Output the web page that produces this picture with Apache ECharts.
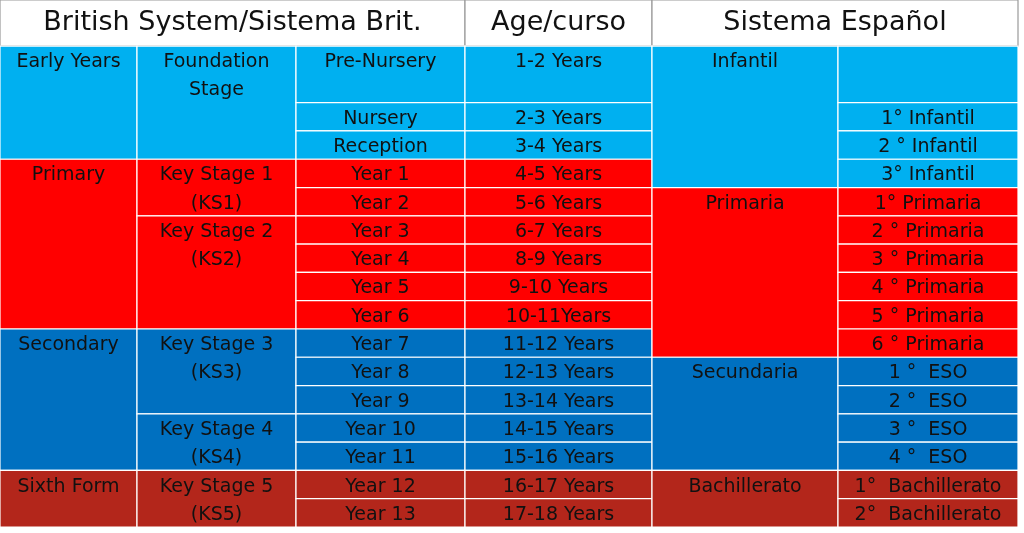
<!DOCTYPE html>
<html>
<head>
<meta charset="utf-8">
<script src="https://cdn.jsdelivr.net/npm/echarts@6/dist/echarts.min.js"></script>
<style>html,body{margin:0;padding:0;background:#fff}#main{width:1024px;height:533px}</style>
</head>
<body>
<div id="main"></div>
<script>
// column borders (px in a 1024 wide page)
var colEdges = [0, 137, 296, 465, 652, 838, 1018];
var HEAD = -1.63;

// [first col, last col, first row, last row (exclusive), label, stage]
var headerCells = [
    [0, 2, HEAD, 0, 'British System/Sistema Brit.', 'head'],
    [3, 3, HEAD, 0, 'Age/curso', 'head'],
    [4, 5, HEAD, 0, 'Sistema Español', 'head']
];
var britishCells = [
    [0, 0, 0, 4, 'Early Years', 'early'],
    [0, 0, 4, 10, 'Primary', 'primary'],
    [0, 0, 10, 15, 'Secondary', 'secondary'],
    [0, 0, 15, 17, 'Sixth Form', 'sixth'],
    [1, 1, 0, 4, 'Foundation\nStage', 'early'],
    [1, 1, 4, 6, 'Key Stage 1\n(KS1)', 'primary'],
    [1, 1, 6, 10, 'Key Stage 2\n(KS2)', 'primary'],
    [1, 1, 10, 13, 'Key Stage 3\n(KS3)', 'secondary'],
    [1, 1, 13, 15, 'Key Stage 4\n(KS4)', 'secondary'],
    [1, 1, 15, 17, 'Key Stage 5\n(KS5)', 'sixth']
];
var years = ['Pre-Nursery', 'Nursery', 'Reception', 'Year 1', 'Year 2', 'Year 3', 'Year 4', 'Year 5',
    'Year 6', 'Year 7', 'Year 8', 'Year 9', 'Year 10', 'Year 11', 'Year 12', 'Year 13'];
var ages = ['1-2 Years', '2-3 Years', '3-4 Years', '4-5 Years', '5-6 Years', '6-7 Years', '8-9 Years',
    '9-10 Years', '10-11Years', '11-12 Years', '12-13 Years', '13-14 Years', '14-15 Years',
    '15-16 Years', '16-17 Years', '17-18 Years'];
var yearStages = ['early', 'early', 'early', 'primary', 'primary', 'primary', 'primary', 'primary',
    'primary', 'secondary', 'secondary', 'secondary', 'secondary', 'secondary', 'sixth', 'sixth'];
var spanishCells = [
    [4, 4, 0, 5, 'Infantil', 'early'],
    [4, 4, 5, 11, 'Primaria', 'primary'],
    [4, 4, 11, 15, 'Secundaria', 'secondary'],
    [4, 4, 15, 17, 'Bachillerato', 'sixth']
];
var cursos = ['', '1° Infantil', '2 ° Infantil', '3° Infantil', '1° Primaria', '2 ° Primaria',
    '3 ° Primaria', '4 ° Primaria', '5 ° Primaria', '6 ° Primaria', '1 °  ESO', '2 °  ESO',
    '3 °  ESO', '4 °  ESO', '1°  Bachillerato', '2°  Bachillerato'];
var cursoStages = ['early', 'early', 'early', 'early', 'primary', 'primary', 'primary', 'primary',
    'primary', 'primary', 'secondary', 'secondary', 'secondary', 'secondary', 'sixth', 'sixth'];

var colors = { head: '#ffffff', early: '#00b0f0', primary: '#ff0000', secondary: '#0070c0', sixth: '#b3261b' };

// row start of each year: Pre-Nursery takes two rows
function rowStart(i) { return i === 0 ? 0 : i + 1; }

var cells = headerCells.concat(britishCells);
years.forEach(function (y, i) { cells.push([2, 2, rowStart(i), rowStart(i) + (i === 0 ? 2 : 1), y, yearStages[i]]); });
ages.forEach(function (a, i) { cells.push([3, 3, rowStart(i), rowStart(i) + (i === 0 ? 2 : 1), a, yearStages[i]]); });
cells = cells.concat(spanishCells);
cursos.forEach(function (c, i) { cells.push([5, 5, rowStart(i), rowStart(i) + (i === 0 ? 2 : 1), c, cursoStages[i]]); });

var myChart = echarts.init(document.getElementById('main'));
option = {
    animation: false,
    grid: { left: 0, top: 0, width: 1018, height: 527 },
    xAxis: { type: 'value', min: 0, max: 1018, show: false },
    yAxis: { type: 'value', min: HEAD, max: 17, inverse: true, show: false },
    series: [{
        type: 'custom',
        data: cells.map(function (c) { return [colEdges[c[0]], colEdges[c[1] + 1], c[2], c[3], c[4], c[5]]; }),
        renderItem: function (params, api) {
            var p0 = api.coord([api.value(0), api.value(2)]);
            var p1 = api.coord([api.value(1), api.value(3)]);
            var unit = api.size([0, 1])[1];
            var stage = cells[params.dataIndex][5];
            var isHead = stage === 'head';
            return {
                type: 'group',
                children: [{
                    type: 'rect',
                    shape: { x: p0[0], y: p0[1], width: p1[0] - p0[0], height: p1[1] - p0[1] },
                    style: { fill: colors[stage], stroke: isHead ? '#9a9a9a' : '#ffffff', lineWidth: 1.2 }
                }, {
                    type: 'text',
                    style: {
                        x: (p0[0] + p1[0]) / 2,
                        // multi-line labels: first line sits on the first row
                        y: isHead ? (p0[1] + p1[1]) / 2 : p0[1] + 2,
                        text: cells[params.dataIndex][4],
                        fill: '#111',
                        font: isHead ? '27px "DejaVu Sans"' : '19px "DejaVu Sans"',
                        align: 'center',
                        verticalAlign: isHead ? 'middle' : 'top',
                        lineHeight: isHead ? 30 : unit
                    }
                }]
            };
        }
    }]
};
myChart.setOption(option);
</script>
</body>
</html>
